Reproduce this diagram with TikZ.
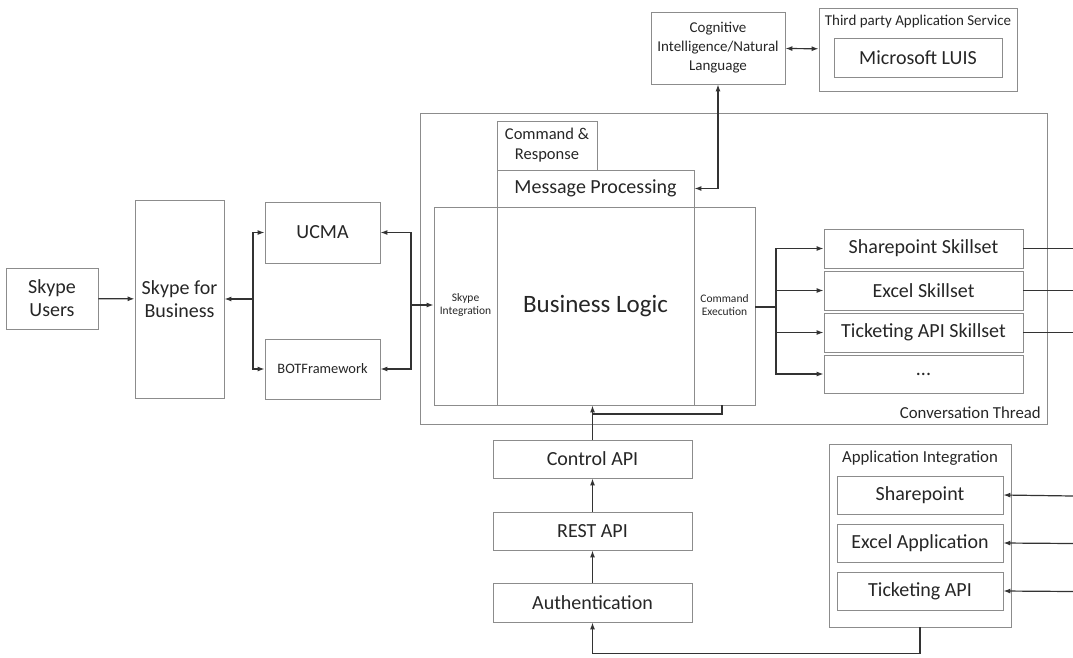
\documentclass[tikz,border=0pt]{standalone}
\usepackage{fontspec}
\setmainfont{Carlito}
\usetikzlibrary{arrows.meta}

\begin{document}
\begin{tikzpicture}[x = 1pt, y = -1pt,
  box/.style = {draw = black!45, line width = 0.8pt, rectangle, inner sep = 0pt, align = center, text = black!85},
  lbl/.style = {inner sep = 0pt, align = center, text = black!85},
  arr/.style = {draw = black!80, line width = 1.2pt, -{Latex[length = 7pt, width = 5pt]}},
  dbl/.style = {draw = black!80, line width = 1.2pt, {Latex[length = 7pt, width = 5pt]}-{Latex[length = 7pt, width = 5pt]}},
  ln/.style  = {draw = black!80, line width = 1.2pt},
  fxl/.style = {font = \fontsize{25}{28}\selectfont},
  fl/.style  = {font = \fontsize{20}{23}\selectfont},
  fm/.style  = {font = \fontsize{16.8}{20}\selectfont},
  fs/.style  = {font = \fontsize{15}{19}\selectfont},
  fxs/.style = {font = \fontsize{11.5}{13.5}\selectfont}]
\useasboundingbox (0, 0) rectangle (1073, 657);

\node[box, fl, minimum width = 92, minimum height = 61] at (52, 298.5) (users) {Skype\\Users};
\node[box, fl, minimum width = 89, minimum height = 198] at (179.5, 299) (sfb) {Skype for\\Business};
\node[box, fl, minimum width = 115, minimum height = 61] at (322.5, 232.5) (ucma) {UCMA};
\node[box, font = \fontsize{14.4}{17}\selectfont, minimum width = 115, minimum height = 60] at (322.5, 369) (bot) {BOTFramework};

% conversation thread
\node[box, minimum width = 627, minimum height = 311] at (733.5, 268.5) (thread) {};
\node[lbl, fm, anchor = east] at (1041, 413) (threadlbl) {Conversation Thread};
\node[box, font = \fontsize{16.5}{20}\selectfont, minimum width = 100, minimum height = 49] at (547, 145.5) (cmdresp) {Command \&\\Response};
\node[box, fl, minimum width = 197, minimum height = 37] at (595.5, 188.5) (msgproc) {Message Processing};
\node[box, minimum width = 321, minimum height = 198] at (594.5, 306) (core) {};
\node[box, fxl, minimum width = 197, minimum height = 198] at (595.5, 306) (logic) {Business Logic};
\node[lbl, fxs] at (465.5, 305) (skint) {Skype\\Integration};
\node[lbl, fxs] at (724.5, 305) (cmdexec) {Command\\Execution};

% cognitive services
\node[box, fs, minimum width = 134, minimum height = 72] at (718, 48) (cogn) {Cognitive\\Intelligence/Natural\\Language};
\node[box, minimum width = 198, minimum height = 83] at (918, 49.5) (third) {};
\node[lbl, fs] at (918, 21) (thirdlbl) {Third party Application Service};
\node[box, fl, minimum width = 168, minimum height = 39] at (918, 57.5) (luis) {Microsoft LUIS};

% skillsets
\node[box, fl, minimum width = 199, minimum height = 39] at (923.5, 248.5) (sps) {Sharepoint Skillset};
\node[box, fl, minimum width = 199, minimum height = 39] at (923.5, 290.5) (xls) {Excel Skillset};
\node[box, fl, minimum width = 199, minimum height = 39] at (923.5, 332.5) (tks) {Ticketing API Skillset};
\node[box, fl, minimum width = 199, minimum height = 38] at (923.5, 374) (more) {...};

% api stack
\node[box, fl, minimum width = 199, minimum height = 38] at (592.5, 459) (control) {Control API};
\node[box, fl, minimum width = 199, minimum height = 38] at (592.5, 531) (rest) {REST API};
\node[box, fl, minimum width = 199, minimum height = 39] at (592.5, 602.5) (auth) {Authentication};

% application integration
\node[box, minimum width = 182, minimum height = 183] at (920, 535.5) (appint) {};
\node[lbl, fm] at (920, 458) (appintlbl) {Application Integration};
\node[box, fl, minimum width = 166, minimum height = 38] at (920, 495) (spa) {Sharepoint};
\node[box, fl, minimum width = 166, minimum height = 38] at (920, 543) (xla) {Excel Application};
\node[box, fl, minimum width = 166, minimum height = 38] at (920, 591) (tka) {Ticketing API};

\coordinate (jl) at (253, 299);
\coordinate (jr) at (411, 305);
\coordinate (js) at (776, 307);
\coordinate (cebot) at (722, 405);
\coordinate (cejoin) at (592.5, 414);
\coordinate (e1) at (1073, 248.5);
\coordinate (e2) at (1073, 290.5);
\coordinate (e3) at (1073, 332.5);
\coordinate (f1) at (1073, 496);
\coordinate (f2) at (1073, 543.5);
\coordinate (f3) at (1073, 591.5);

\draw[arr] (users) -- (sfb);
\draw[arr] (jl) -- (sfb.east |- jl);
\draw[arr] (jl) |- (ucma.west);
\draw[arr] (jl) |- (bot.west);
\draw[arr] (jr) |- (ucma.east);
\draw[arr] (jr) |- (bot.east);
\draw[arr] (jr) -- (core.west |- jr);

\draw[ln] (core.east |- js) -- (js);
\draw[arr] (js) |- (sps.west);
\draw[arr] (js) |- (xls.west);
\draw[arr] (js) |- (tks.west);
\draw[arr] (js) |- (more.west);

\draw[dbl] (cogn) -- (third);
\draw[dbl] (cogn.south) |- (msgproc.east);

\draw[arr] (control.north) -- (control.north |- core.south);
\draw[ln] (cebot) |- (cejoin);
\draw[arr] (rest) -- (control);
\draw[arr] (auth) -- (rest);
\draw[arr] (appint.south) -- ++(0, 26) -| (auth.south);

\draw[ln] (sps.east) -- (e1);
\draw[ln] (xls.east) -- (e2);
\draw[ln] (tks.east) -- (e3);
\draw[arr] (f1) -- (spa.east);
\draw[arr] (f2) -- (xla.east);
\draw[arr] (f3) -- (tka.east);

\end{tikzpicture}
\end{document}
